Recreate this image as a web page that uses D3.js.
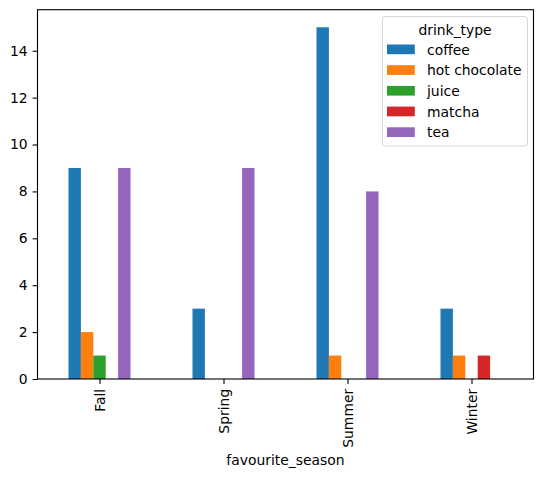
<!DOCTYPE html>
<html>
<head>
<meta charset="utf-8">
<script src="https://cdn.jsdelivr.net/npm/d3@7"></script>
<style>
  body { margin: 0; background: #fff; }
  text { font-family: "DejaVu Sans", sans-serif; fill: #000; }
</style>
</head>
<body>
<svg id="chart" width="543" height="477"></svg>
<script>
// data
var seasons = ["Fall", "Spring", "Summer", "Winter"];
var drinks = ["coffee", "hot chocolate", "juice", "matcha", "tea"];
var coffee = [9, 3, 15, 3];
var hotChocolate = [2, 0, 1, 1];
var juice = [1, 0, 0, 0];
var matcha = [0, 0, 0, 1];
var tea = [9, 9, 8, 0];
var yTicks = [0, 2, 4, 6, 8, 10, 12, 14];

var colors = ["#1f77b4", "#ff7f0e", "#2ca02c", "#d62728", "#9467bd"];
var series = [coffee, hotChocolate, juice, matcha, tea];

const svg = d3.select("#chart");
const margin = { top: 9.7, right: 9.5, bottom: 98, left: 37.5 };
const w = 543 - margin.left - margin.right;
const h = 477 - margin.top - margin.bottom;

const g = svg.append("g")
    .attr("transform", "translate(" + margin.left + "," + margin.top + ")");

// linear x so the matplotlib offsets work: each category takes 1 unit, bars 0.1 wide
const x = d3.scaleLinear().domain([-0.5, seasons.length - 0.5]).range([0, w]);
const y = d3.scaleLinear().domain([0, 15.75]).range([h, 0]);
const barW = 0.5 / drinks.length;

series.forEach((vals, i) => {
    g.selectAll(".bar" + i)
        .data(vals)
        .enter()
        .append("rect")
            .attr("x", (d, j) => x(j + (i - 2) * barW - barW / 2))
            .attr("width", x(barW) - x(0))
            .attr("y", d => y(d))
            .attr("height", d => y(0) - y(d))
            .attr("fill", colors[i]);
});

// y axis
const yAxis = g.append("g")
    .call(d3.axisLeft(y).tickValues(yTicks).tickSize(4.9).tickPadding(4.9));
yAxis.select(".domain").remove();
yAxis.selectAll("text").style("font-size", "13.9px").attr("fill", "#000");
yAxis.selectAll("line").attr("stroke", "#000").attr("stroke-width", 1.1);

// x axis
const xAxis = g.append("g")
    .attr("transform", "translate(0," + h + ")")
    .call(d3.axisBottom(x).tickValues(d3.range(seasons.length))
        .tickFormat(i => seasons[i]).tickSize(4.9).tickPadding(4.9));
xAxis.select(".domain").remove();
xAxis.selectAll("line").attr("stroke", "#000").attr("stroke-width", 1.1);
xAxis.selectAll("text")
    .style("font-size", "13.9px")
    .attr("fill", "#000")
    .attr("dy", null)
    .attr("y", 0)
    .attr("x", 0)
    .attr("text-anchor", "end")
    .attr("dominant-baseline", "central")
    .attr("transform", "translate(0,9.8) rotate(-90)");

// frame
g.append("rect")
    .attr("width", w).attr("height", h)
    .attr("fill", "none").attr("stroke", "#000").attr("stroke-width", 1.1);

// axis title
svg.append("text")
    .attr("x", margin.left + w / 2)
    .attr("y", 465)
    .attr("text-anchor", "middle")
    .style("font-size", "13.9px")
    .text("favourite_season");

// legend
const lg = svg.append("g").attr("transform", "translate(382.5,16.5)");
lg.append("rect")
    .attr("width", 145).attr("height", 129.5).attr("rx", 3)
    .attr("fill", "#fff").attr("fill-opacity", 0.8)
    .attr("stroke", "#d6d6d6").attr("stroke-width", 1);
lg.append("text")
    .attr("x", 72.5).attr("y", 18)
    .attr("text-anchor", "middle")
    .style("font-size", "13.9px")
    .text("drink_type");
drinks.forEach((d, i) => {
    const row = lg.append("g").attr("transform", "translate(0," + (33 + i * 20.7) + ")");
    row.append("rect")
        .attr("x", 4.5).attr("y", -5)
        .attr("width", 27.8).attr("height", 9.7)
        .attr("fill", colors[i]);
    row.append("text")
        .attr("x", 44.5).attr("y", 0)
        .attr("dominant-baseline", "central")
        .style("font-size", "13.9px")
        .text(d);
});
</script>
</body>
</html>
